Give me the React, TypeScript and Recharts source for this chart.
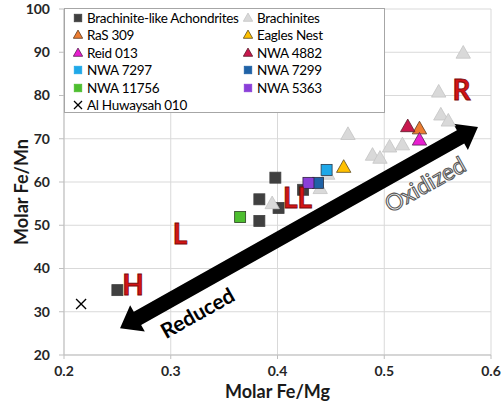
import {
  CartesianGrid,
  Legend,
  ReferenceDot,
  ReferenceLine,
  Scatter,
  ScatterChart,
  XAxis,
  YAxis,
} from "recharts";

type Pt = { x: number; y: number };

// values
const brachiniteLike: Pt[] = [
  { x: 0.25, y: 35 },
  { x: 0.398, y: 61 },
  { x: 0.383, y: 56 },
  { x: 0.383, y: 51 },
  { x: 0.401, y: 54 },
  { x: 0.424, y: 58.2 },
];
const brachinites: Pt[] = [
  { x: 0.395, y: 55 },
  { x: 0.44, y: 58.5 },
  { x: 0.447, y: 61.8 },
  { x: 0.466, y: 71 },
  { x: 0.489, y: 66.2 },
  { x: 0.496, y: 65.5 },
  { x: 0.505, y: 68.1 },
  { x: 0.517, y: 68.6 },
  { x: 0.551, y: 80.8 },
  { x: 0.553, y: 75.5 },
  { x: 0.56, y: 74.1 },
  { x: 0.574, y: 89.8 },
];
const ras309: Pt[] = [{ x: 0.533, y: 72.3 }];
const eaglesNest: Pt[] = [{ x: 0.462, y: 63.4 }];
const reid013: Pt[] = [{ x: 0.533, y: 69.7 }];
const nwa4882: Pt[] = [{ x: 0.522, y: 72.8 }];
const nwa7297: Pt[] = [{ x: 0.446, y: 62.8 }];
const nwa7299: Pt[] = [{ x: 0.438, y: 59.8 }];
const nwa11756: Pt[] = [{ x: 0.365, y: 51.9 }];
const nwa5363: Pt[] = [{ x: 0.429, y: 59.8 }];
const alHuwaysah: Pt[] = [{ x: 0.216, y: 31.8 }];

const xTicks = [0.2, 0.3, 0.4, 0.5, 0.6];
const yTicks = [20, 30, 40, 50, 60, 70, 80, 90, 100];

const groupLabels = [
  { x: 0.2646, y: 36.1, text: "H" },
  { x: 0.3087, y: 48, text: "L" },
  { x: 0.4187, y: 56.3, text: "LL" },
  { x: 0.5724, y: 81.3, text: "R" },
];
const arrowEnds: Pt[] = [
  { x: 0.2525, y: 26.2 },
  { x: 0.5878, y: 72.7 },
];
const reducedAt: Pt = { x: 0.3246, y: 29.9 };
const oxidizedAt: Pt = { x: 0.538, y: 59.6 };

const FONT = "Lato, 'Open Sans', Arial, sans-serif";
const ARROW_ANGLE = -29.3;

type Kind = "square" | "triangle" | "cross";

type SeriesDef = {
  name: string;
  data: Pt[];
  kind: Kind;
  fill: string;
  stroke: string;
};

// draw order (back to front)
const seriesList: SeriesDef[] = [
  { name: "Brachinite-like Achondrites", data: brachiniteLike, kind: "square", fill: "#404040", stroke: "#404040" },
  { name: "Brachinites", data: brachinites, kind: "triangle", fill: "#D9D9D9", stroke: "#C4C4C4" },
  { name: "RaS 309", data: ras309, kind: "triangle", fill: "#ED7D31", stroke: "#5a3a20" },
  { name: "Eagles Nest", data: eaglesNest, kind: "triangle", fill: "#FFC000", stroke: "#5a4a20" },
  { name: "Reid 013", data: reid013, kind: "triangle", fill: "#E81ED0", stroke: "#5a2050" },
  { name: "NWA 4882", data: nwa4882, kind: "triangle", fill: "#C8184E", stroke: "#5a1a2a" },
  { name: "NWA 7297", data: nwa7297, kind: "square", fill: "#1FA8E8", stroke: "#2a3a4a" },
  { name: "NWA 7299", data: nwa7299, kind: "square", fill: "#1F62A6", stroke: "#2a3040" },
  { name: "NWA 11756", data: nwa11756, kind: "square", fill: "#4DBE2F", stroke: "#2a4020" },
  { name: "NWA 5363", data: nwa5363, kind: "square", fill: "#8A3FD8", stroke: "#302040" },
  { name: "Al Huwaysah 010", data: alHuwaysah, kind: "cross", fill: "#000", stroke: "#000" },
];

const legendOrder = [
  "Brachinite-like Achondrites",
  "Brachinites",
  "RaS 309",
  "Eagles Nest",
  "Reid 013",
  "NWA 4882",
  "NWA 7297",
  "NWA 7299",
  "NWA 11756",
  "NWA 5363",
  "Al Huwaysah 010",
];

const Marker = ({ cx, cy, kind, fill, stroke, size }: { cx: number; cy: number; kind: Kind; fill: string; stroke: string; size: number }) => {
  if (kind === "square") {
    return <rect x={cx - size / 2} y={cy - size / 2} width={size} height={size} fill={fill} stroke={stroke} strokeWidth={0.8} />;
  }
  if (kind === "triangle") {
    const w = size * 1.25;
    const h = size * 1.1;
    return (
      <polygon
        points={`${cx},${cy - h * 0.6} ${cx + w / 2},${cy + h * 0.4} ${cx - w / 2},${cy + h * 0.4}`}
        fill={fill}
        stroke={stroke}
        strokeWidth={0.8}
        strokeLinejoin="round"
      />
    );
  }
  const r = size / 2;
  return (
    <g stroke={stroke} strokeWidth={1.3}>
      <line x1={cx - r} y1={cy - r} x2={cx + r} y2={cy + r} />
      <line x1={cx - r} y1={cy + r} x2={cx + r} y2={cy - r} />
    </g>
  );
};

const LegendBox = () => (
  <div
    style={{
      width: 321,
      height: 105,
      boxSizing: "border-box",
      border: "1px solid #A6A6A6",
      background: "#fff",
      display: "grid",
      gridTemplateColumns: "170px 150px",
      gridAutoRows: "17.5px",
      paddingLeft: 8,
      fontFamily: FONT,
      fontSize: 13.5,
      color: "#000",
      letterSpacing: -0.3,
    }}
  >
    {[...seriesList]
      .sort((a, b) => legendOrder.indexOf(a.name) - legendOrder.indexOf(b.name))
      .map((s) => (
        <div key={s.name} style={{ display: "flex", alignItems: "center", whiteSpace: "nowrap" }}>
          <svg width={10} height={10} style={{ marginRight: 4 }}>
            <Marker cx={5} cy={5} kind={s.kind} fill={s.fill} stroke={s.kind === "square" ? s.fill : s.stroke} size={s.kind === "cross" ? 8 : 7.5} />
          </svg>
          <span>{s.name}</span>
        </div>
      ))}
  </div>
);

const DoubleArrow = (props: any) => {
  const { x1, y1, x2, y2 } = props;
  if ([x1, y1, x2, y2].some((v) => typeof v !== "number")) return null;
  const len = Math.hypot(x2 - x1, y2 - y1);
  const ux = (x2 - x1) / len;
  const uy = (y2 - y1) / len;
  const nx = -uy;
  const ny = ux;
  const sw = 7.5; // shaft half width
  const hw = 15; // head half width
  const hl = 20; // head length
  const b1 = { x: x1 + ux * hl, y: y1 + uy * hl };
  const b2 = { x: x2 - ux * hl, y: y2 - uy * hl };
  const p = (x: number, y: number) => `${x},${y}`;
  const pts = [
    p(x1, y1),
    p(b1.x + nx * hw, b1.y + ny * hw),
    p(b1.x + nx * sw, b1.y + ny * sw),
    p(b2.x + nx * sw, b2.y + ny * sw),
    p(b2.x + nx * hw, b2.y + ny * hw),
    p(x2, y2),
    p(b2.x - nx * hw, b2.y - ny * hw),
    p(b2.x - nx * sw, b2.y - ny * sw),
    p(b1.x - nx * sw, b1.y - ny * sw),
    p(b1.x - nx * hw, b1.y - ny * hw),
  ].join(" ");
  return <polygon points={pts} fill="#000" />;
};

export default function App() {
  return (
    <div style={{ position: "absolute", left: 0, top: 0, width: 503, height: 401, background: "#fff" }}>
      <ScatterChart width={503} height={401} margin={{ top: 9, right: 12, bottom: 0, left: 0 }}>
        <CartesianGrid stroke="#D9D9D9" />
        <XAxis
          type="number"
          dataKey="x"
          domain={[0.2, 0.6]}
          ticks={xTicks}
          tickFormatter={(v: number) => v.toFixed(1)}
          height={46}
          stroke="#BFBFBF"
          tickSize={4}
          tickMargin={7}
          tick={{ fill: "#262626", fontSize: 14, fontWeight: 700, fontFamily: FONT }}
          label={{
            value: "Molar Fe/Mg",
            position: "insideBottom",
            offset: 3,
            style: { fill: "#1a1a1a", fontSize: 18, fontWeight: 700, fontFamily: FONT },
          }}
        />
        <YAxis
          type="number"
          dataKey="y"
          domain={[20, 100]}
          ticks={yTicks}
          width={64}
          stroke="#BFBFBF"
          tickSize={5}
          tickMargin={9}
          tick={{ fill: "#262626", fontSize: 14, fontWeight: 700, fontFamily: FONT }}
          label={{
            value: "Molar Fe/Mn",
            angle: -90,
            position: "insideLeft",
            offset: 22,
            dy: 10,
            style: { textAnchor: "middle", fill: "#1a1a1a", fontSize: 18, fontWeight: 700, fontFamily: FONT },
          }}
        />
        <Legend
          layout="vertical"
          align="center"
          verticalAlign="middle"
          content={() => <LegendBox />}
          wrapperStyle={{ left: 64, top: 8, width: 321, height: 105 }}
        />
        <ReferenceLine segment={arrowEnds} shape={DoubleArrow} ifOverflow="visible" />
        <ReferenceDot
          x={reducedAt.x}
          y={reducedAt.y}
          ifOverflow="visible"
          shape={(p: any) => (
            <text
              x={p.cx}
              y={p.cy}
              transform={`rotate(${ARROW_ANGLE}, ${p.cx}, ${p.cy})`}
              textAnchor="middle"
              dominantBaseline="central"
              fontFamily={FONT}
              fontWeight={700}
              fontSize={21}
              fill="#000"
            >
              Reduced
            </text>
          )}
        />
        <ReferenceDot
          x={oxidizedAt.x}
          y={oxidizedAt.y}
          ifOverflow="visible"
          shape={(p: any) => (
            <text
              x={p.cx}
              y={p.cy}
              transform={`rotate(${ARROW_ANGLE}, ${p.cx}, ${p.cy})`}
              textAnchor="middle"
              dominantBaseline="central"
              fontFamily={FONT}
              fontSize={23}
              fill="#fff"
              stroke="#595959"
              strokeWidth={1.1}
            >
              Oxidized
            </text>
          )}
        />
        {seriesList.map((s) => (
          <Scatter
            key={s.name}
            name={s.name}
            data={s.data}
            isAnimationActive={false}
            shape={(p: any) => (
              <Marker cx={p.cx} cy={p.cy} kind={s.kind} fill={s.fill} stroke={s.stroke} size={s.kind === "triangle" ? 11.5 : s.kind === "cross" ? 10 : 11} />
            )}
          />
        ))}
        {groupLabels.map((g) => (
          <ReferenceDot
            key={g.text}
            x={g.x}
            y={g.y}
            ifOverflow="visible"
            shape={(p: any) => (
              <text
                x={p.cx}
                y={p.cy + 10}
                textAnchor="middle"
                fontFamily={FONT}
                fontWeight={700}
                fontSize={28}
                fill="#D21414"
                stroke="#7A0A0A"
                strokeWidth={0.8}
              >
                {g.text}
              </text>
            )}
          />
        ))}
      </ScatterChart>
    </div>
  );
}
